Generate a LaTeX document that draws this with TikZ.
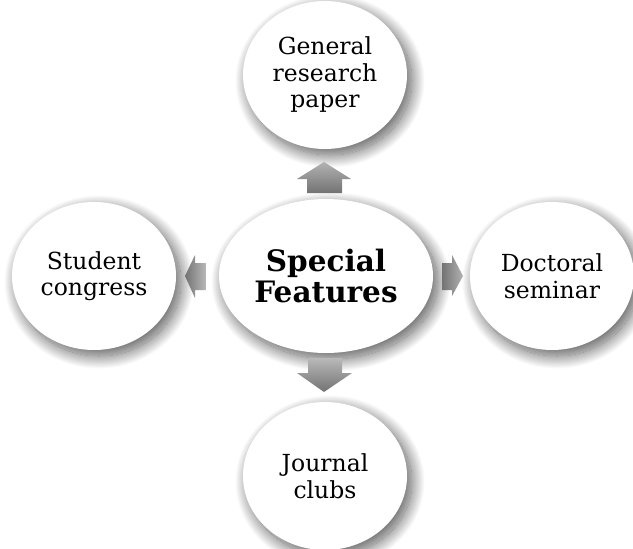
\documentclass[tikz,border=0pt]{standalone}
\usepackage{fontspec}
\setmainfont{DejaVu Serif}
\usetikzlibrary{shapes.geometric,shadows.blur}
\begin{document}
\begin{tikzpicture}[x=1pt,y=-1pt,
  bubble/.style={ellipse, fill=white, minimum width=164pt, minimum height=148pt,
    inner sep=0pt, align=center, font=\fontsize{23.5}{26.5}\selectfont,
    blur shadow={shadow xshift=5pt, shadow yshift=-6pt,
      shadow blur radius=13pt, shadow blur steps=30, shadow opacity=65}},
  hub/.style={bubble, minimum width=214pt, minimum height=154pt,
    font=\fontsize{29.5}{31}\selectfont\bfseries},
  blockarrow/.style={draw=none}]
\useasboundingbox (0,0) rectangle (633,549);

% central idea and the four features around it
\node[hub]    (hub)    at (326,276) {Special\\Features};
\node[bubble] (paper)  at (325,75)  {General\\research\\paper};
\node[bubble] (congress) at (94,276) {Student\\congress};
\node[bubble] (seminar) at (552,276) {Doctoral\\seminar};
\node[bubble] (clubs)  at (325,476) {Journal\\clubs};

% block arrows pointing from the hub to each feature
\shade[blockarrow, top color=gray!60, bottom color=gray!90!black]
  (307,193) -- (307,179) -- (297,179) -- (324,162) -- (351,179)
  -- (342,179) -- (342,193) -- cycle;
\shade[blockarrow, top color=gray!55, bottom color=gray!90!black]
  (308,358) -- (342,358) -- (342,373) -- (352,373) -- (324,392)
  -- (297,373) -- (308,373) -- cycle;
\shade[blockarrow, left color=gray!90!black, right color=gray!55]
  (206,263) -- (195,263) -- (195,255) -- (185,276) -- (195,298)
  -- (195,290) -- (206,290) -- cycle;
\shade[blockarrow, left color=gray!90!black, right color=gray!60]
  (442,263) -- (452,263) -- (452,255) -- (463,276) -- (452,296)
  -- (452,290) -- (442,290) -- cycle;
\end{tikzpicture}
\end{document}
